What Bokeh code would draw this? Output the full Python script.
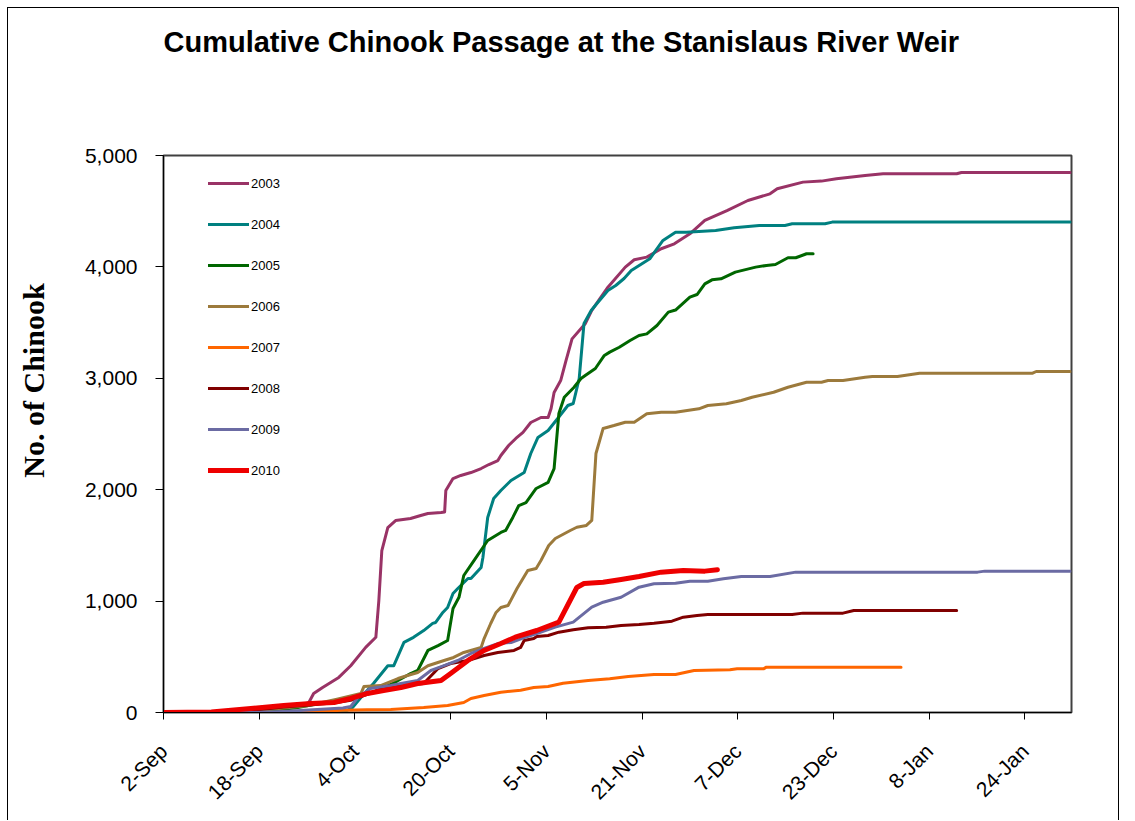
import math
from bokeh.plotting import figure
from bokeh.models import FixedTicker, NumeralTickFormatter, Legend, LegendItem, Range1d, Label
from bokeh.embed import file_html
from bokeh.resources import INLINE

# ---- data (x = days since 2-Sep, y = cumulative count) ----
tick_days = [0, 16, 32, 48, 64, 80, 96, 112, 128, 144]
tick_labels = ["2-Sep", "18-Sep", "4-Oct", "20-Oct", "5-Nov", "21-Nov", "7-Dec", "23-Dec", "8-Jan", "24-Jan"]
y_ticks = [0, 1000, 2000, 3000, 4000, 5000]

d2003 = [0, 10, 16, 20, 23, 24.3, 25.1, 26.6, 29.3, 31.3, 33.8, 35.5, 36.0, 36.5, 37.5, 38.8, 41.3, 43.0, 44.2, 46.4, 47.0, 47.2, 48.4, 49.7, 51.4, 53.1, 54.4, 55.9, 56.4, 57.7, 58.9, 60.1, 61.4, 63.1, 64.3, 64.8, 65.3, 66.4, 67.3, 68.3, 70.5, 71.6, 74.3, 77.2, 78.7, 80.8, 83.2, 85.4, 88.0, 90.5, 94.2, 97.7, 101.4, 102.6, 106.9, 110.0, 112.5, 117.3, 120.3, 132.6, 133.4, 151.6]
v2003 = [0, 0, 10, 30, 60, 90, 170, 225, 315, 420, 585, 675, 1005, 1454, 1660, 1723, 1741, 1768, 1786, 1795, 1800, 1993, 2100, 2128, 2154, 2190, 2226, 2262, 2307, 2397, 2460, 2514, 2603, 2648, 2648, 2729, 2873, 2980, 3160, 3354, 3489, 3609, 3818, 3998, 4064, 4088, 4163, 4207, 4297, 4417, 4506, 4596, 4656, 4701, 4761, 4770, 4791, 4821, 4836, 4836, 4848, 4848]

d2004 = [0, 30, 31.6, 33.0, 35.1, 37.5, 38.5, 40.2, 41.8, 43.5, 45.0, 45.5, 46.7, 47.5, 48.4, 49.2, 50.9, 51.4, 53.1, 53.4, 54.2, 55.2, 56.4, 58.1, 60.3, 61.4, 62.6, 64.3, 65.9, 67.6, 68.5, 69.5, 70.3, 71.5, 72.6, 74.3, 75.6, 77.0, 78.2, 81.3, 83.5, 85.6, 87.4, 92.3, 95.4, 99.6, 103.9, 105.1, 110.6, 111.8, 151.6]
v2004 = [0, 0, 45, 135, 260, 420, 420, 630, 675, 735, 800, 808, 898, 943, 1068, 1113, 1203, 1203, 1302, 1391, 1750, 1921, 1993, 2083, 2154, 2325, 2469, 2531, 2639, 2756, 2774, 3000, 3492, 3609, 3681, 3788, 3833, 3896, 3968, 4073, 4237, 4312, 4312, 4327, 4351, 4372, 4372, 4387, 4387, 4402, 4402]

d2005 = [0, 15, 22, 28, 31, 36, 39, 41.3, 42.5, 44.2, 45.9, 47.5, 48.4, 49.4, 50.2, 51.9, 54.2, 56.4, 57.2, 58.4, 59.4, 60.6, 62.3, 64.3, 65.3, 66.1, 67.0, 68.6, 69.8, 70.5, 72.2, 73.7, 74.6, 76.2, 78.0, 79.5, 80.8, 82.5, 84.4, 85.6, 88.0, 89.2, 90.5, 91.7, 93.2, 95.6, 99.0, 100.8, 102.3, 104.4, 105.7, 107.5, 108.6]
v2005 = [0, 10, 40, 100, 120, 200, 280, 350, 377, 557, 600, 646, 934, 1034, 1230, 1364, 1544, 1616, 1634, 1751, 1858, 1885, 2011, 2065, 2190, 2684, 2830, 2918, 2998, 3025, 3088, 3205, 3235, 3279, 3339, 3384, 3399, 3474, 3594, 3613, 3728, 3752, 3848, 3884, 3893, 3953, 3998, 4013, 4022, 4082, 4082, 4118, 4118]

d2006 = [0, 10, 18, 24, 29, 33.0, 33.5, 36.3, 39.2, 40.8, 42.5, 44.2, 46.9, 48.5, 50.2, 53.1, 53.6, 54.7, 55.6, 56.4, 57.6, 59.1, 60.9, 62.3, 63.1, 64.4, 65.5, 68.0, 69.1, 70.7, 71.6, 72.3, 73.5, 75.3, 77.2, 78.7, 80.8, 83.2, 85.6, 89.5, 91.0, 94.1, 96.6, 98.4, 102.0, 104.4, 107.5, 110.0, 111.1, 113.6, 117.3, 118.5, 122.7, 126.4, 145.3, 145.9, 151.6]
v2006 = [0, 5, 30, 60, 120, 170, 233, 242, 305, 332, 359, 420, 467, 494, 539, 584, 664, 799, 898, 943, 960, 1113, 1275, 1293, 1364, 1499, 1562, 1634, 1663, 1679, 1724, 2325, 2550, 2576, 2606, 2606, 2681, 2696, 2696, 2726, 2756, 2771, 2801, 2830, 2875, 2920, 2965, 2965, 2980, 2980, 3010, 3016, 3016, 3046, 3046, 3061, 3061]

d2007 = [0, 20, 25, 30, 34, 38, 43.5, 47.5, 50.2, 51.4, 53.6, 56.4, 59.7, 61.9, 64.3, 66.8, 71.0, 74.6, 77.7, 82.0, 85.6, 88.7, 94.7, 95.9, 100.3, 100.8, 123.3]
v2007 = [0, 0, 10, 20, 25, 27, 45, 63, 90, 126, 153, 182, 200, 224, 233, 263, 287, 302, 323, 341, 341, 377, 383, 392, 392, 407, 407]

d2008 = [0, 10, 15, 20, 25, 29, 31.3, 35, 36.8, 40, 43.5, 45.9, 48.0, 50.9, 53.6, 55.9, 58.6, 59.7, 60.3, 61.9, 62.4, 64.3, 66.1, 68.5, 71.0, 74.0, 76.5, 79.5, 82.0, 85.0, 86.9, 89.2, 91.0, 105.1, 106.9, 113.6, 115.4, 132.6]
v2008 = [0, 5, 20, 50, 70, 90, 110, 180, 233, 240, 260, 395, 440, 467, 512, 539, 557, 584, 646, 664, 682, 691, 721, 742, 760, 766, 781, 790, 802, 820, 856, 871, 880, 880, 892, 892, 916, 916]

d2009 = [0, 15, 20, 25, 30, 31.3, 32.5, 34.6, 38.0, 39.7, 42.5, 44.7, 46.9, 49.2, 51.4, 53.6, 55.9, 58.1, 60.3, 62.4, 65.5, 68.5, 71.6, 73.5, 76.5, 79.5, 82.0, 85.6, 88.0, 91.0, 93.6, 96.6, 101.4, 105.7, 136.1, 137.3, 151.6]
v2009 = [0, 0, 10, 25, 40, 54, 135, 215, 242, 260, 287, 377, 420, 467, 530, 575, 619, 628, 673, 709, 766, 811, 946, 990, 1035, 1125, 1155, 1161, 1179, 1179, 1200, 1221, 1221, 1260, 1260, 1269, 1269]

d2010 = [0, 8, 14.6, 20.1, 24.6, 28.5, 31.3, 34.1, 36.8, 39.7, 42.5, 46.4, 48.0, 50.9, 53.6, 56.4, 58.8, 62.4, 66.1, 69.1, 70.3, 73.5, 76.5, 79.5, 83.2, 86.9, 90.5, 92.6]
v2010 = [0, 5, 36, 63, 81, 90, 126, 171, 197, 224, 260, 287, 350, 467, 557, 619, 676, 736, 811, 1122, 1158, 1170, 1194, 1221, 1260, 1275, 1269, 1281]

years = ["2003", "2004", "2005", "2006", "2007", "2008", "2009", "2010"]
days = [d2003, d2004, d2005, d2006, d2007, d2008, d2009, d2010]
vals = [v2003, v2004, v2005, v2006, v2007, v2008, v2009, v2010]
colors = ["#993366", "#008080", "#006600", "#9c7a3c", "#ff6600", "#800000", "#6b6ba3", "#ee0000"]
widths = [3, 3, 3, 3, 3, 3, 3, 5]

FONT = "Liberation Sans"

p = figure(width=1112, height=813, output_backend="svg", toolbar_location=None,
           x_range=Range1d(0, 151.8), y_range=Range1d(0, 5000),
           min_border_left=155, min_border_right=49, min_border_top=147, min_border_bottom=109)
p.styles = {"margin-left": "7px", "margin-top": "7px",
            "border-left": "1px solid black", "border-top": "1px solid black",
            "border-right": "1px solid black"}
p.background_fill_color = "white"
p.border_fill_color = "white"
p.outline_line_color = "#404040"
p.outline_line_width = 2
p.xgrid.visible = False
p.ygrid.visible = False
p.title.text = ""
p.title.standoff = 0

items = []
for yr, d, v, c, w in zip(years, days, vals, colors, widths):
    r = p.line(d, v, line_color=c, line_width=w, line_join="round", line_cap="round")
    items.append(LegendItem(label=yr, renderers=[r]))

leg = Legend(items=items, location=(45, 232), padding=0, margin=0, spacing=21,
             glyph_width=41, glyph_height=20, label_height=20, label_standoff=2,
             label_text_font=FONT, label_text_font_size="13px", label_text_color="black",
             border_line_alpha=0, background_fill_alpha=0)
p.add_layout(leg, "center")

xa = p.xaxis[0]
xa.ticker = FixedTicker(ticks=tick_days)
xa.major_label_overrides = {d: lab for d, lab in zip(tick_days, tick_labels)}
xa.major_label_orientation = math.pi / 4
xa.major_label_text_font = FONT
xa.major_label_text_font_size = "21px"
xa.major_label_text_color = "black"
xa.major_label_standoff = 28
xa.major_tick_out = 7
xa.major_tick_in = 0
xa.minor_tick_out = 0
xa.minor_tick_in = 0
xa.axis_line_color = "black"
xa.major_tick_line_color = "black"

ya = p.yaxis[0]
ya.ticker = FixedTicker(ticks=y_ticks)
ya.formatter = NumeralTickFormatter(format="0,0")
ya.major_label_text_font = FONT
ya.major_label_text_font_size = "21px"
ya.major_label_text_color = "black"
ya.major_label_standoff = 18
ya.major_tick_out = 8
ya.major_tick_in = 0
ya.minor_tick_out = 0
ya.minor_tick_in = 0
ya.axis_line_color = "black"
ya.major_tick_line_color = "black"

title = Label(x=0, y=6015, text="Cumulative Chinook Passage at the Stanislaus River Weir",
              text_font=FONT, text_font_style="bold", text_font_size="29px", text_color="black",
              text_align="left", text_baseline="middle")
p.add_layout(title, "above")

ylab = Label(x=-21.7, y=2980, text="No. of Chinook", angle=math.pi / 2,
             text_font="Liberation Serif", text_font_style="bold", text_font_size="30px",
             text_color="black", text_align="center", text_baseline="middle")
p.add_layout(ylab, "left")

open("out.html", "w").write(file_html(p, INLINE))
